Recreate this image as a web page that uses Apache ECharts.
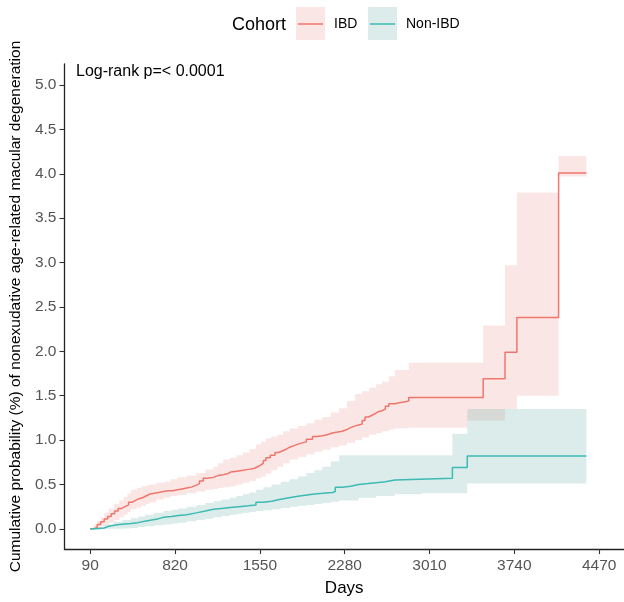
<!DOCTYPE html>
<html>
<head>
<meta charset="utf-8">
<script src="https://cdn.jsdelivr.net/npm/echarts@6/dist/echarts.min.js"></script>
<style>
html,body{margin:0;padding:0;background:#fff;}
#chart{width:624px;height:602px;}
</style>
</head>
<body>
<div id="chart"></div>
<script>
// ---- data ----
var xTicks = [90, 820, 1550, 2280, 3010, 3740, 4470];
var yTicks = [0, 0.5, 1, 1.5, 2, 2.5, 3, 3.5, 4, 4.5, 5];

var ibdDays = [90,120,150,180,210,240,270,300,330,360,390,420,450,480,510,540,570,600,640,680,720,760,800,840,880,920,960,1000,1030,1063,1100,1150,1190,1234,1270,1300,1350,1405,1450,1500,1530,1560,1580,1602,1640,1680,1710,1747,1780,1807,1850,1892,1950,2003,2040,2088,2130,2174,2220,2259,2300,2330,2370,2400,2430,2455,2485,2515,2545,2570,2600,2630,2660,2712,2750,2790,2831,3472,3660,3762,4121,4360];
var ibdValues = [0,0.02,0.05,0.08,0.11,0.14,0.17,0.20,0.23,0.25,0.27,0.30,0.32,0.34,0.35,0.37,0.39,0.40,0.41,0.42,0.43,0.43,0.44,0.45,0.46,0.47,0.49,0.51,0.54,0.57,0.58,0.60,0.61,0.62,0.64,0.65,0.66,0.67,0.68,0.70,0.72,0.74,0.77,0.80,0.83,0.86,0.88,0.90,0.92,0.94,0.96,0.98,1.01,1.04,1.05,1.06,1.08,1.09,1.10,1.12,1.14,1.16,1.17,1.18,1.22,1.26,1.28,1.30,1.32,1.33,1.35,1.38,1.41,1.42,1.43,1.44,1.48,1.69,1.99,2.38,4.01,4.01];

var ibdBandDays = [90,120,150,180,210,250,295,340,380,410,440,490,530,570,600,660,722,780,840,920,1004,1080,1150,1190,1234,1294,1350,1405,1460,1516,1560,1602,1650,1700,1750,1807,1880,1950,2020,2088,2160,2230,2300,2370,2430,2490,2550,2600,2660,2712,2831,3335,3472,3660,3762,4121,4360];
var ibdLower = [0,0,0.01,0.03,0.05,0.07,0.10,0.13,0.16,0.19,0.22,0.24,0.26,0.28,0.30,0.33,0.35,0.37,0.38,0.40,0.42,0.44,0.45,0.46,0.47,0.48,0.50,0.52,0.54,0.57,0.59,0.62,0.66,0.70,0.74,0.78,0.81,0.84,0.87,0.89,0.92,0.94,0.97,1.00,1.03,1.06,1.08,1.10,1.12,1.13,1.14,1.22,1.22,1.35,1.50,3.97,3.97];
var ibdUpper = [0,0.05,0.09,0.13,0.18,0.23,0.28,0.32,0.36,0.40,0.44,0.46,0.48,0.49,0.50,0.52,0.53,0.56,0.58,0.60,0.63,0.67,0.70,0.74,0.78,0.80,0.83,0.86,0.90,0.95,0.98,1.02,1.04,1.06,1.10,1.13,1.16,1.19,1.23,1.26,1.31,1.36,1.44,1.52,1.55,1.59,1.63,1.66,1.72,1.79,1.87,1.87,2.29,2.97,3.79,4.20,4.20];

var nonDays = [90,130,170,210,250,295,340,390,440,500,560,620,680,722,790,850,920,1004,1080,1150,1220,1294,1370,1450,1516,1580,1650,1720,1800,1892,2003,2090,2174,2199,2259,2330,2400,2480,2550,2630,2712,3207,3335,4360];
var nonValues = [0,0.005,0.01,0.03,0.04,0.05,0.055,0.06,0.07,0.085,0.10,0.115,0.13,0.14,0.15,0.16,0.18,0.20,0.22,0.23,0.24,0.25,0.26,0.27,0.30,0.31,0.33,0.35,0.37,0.39,0.40,0.41,0.42,0.47,0.48,0.50,0.51,0.52,0.53,0.55,0.57,0.69,0.82,0.82];

var nonBandDays = [90,150,210,295,370,440,500,560,640,722,790,850,920,1004,1080,1150,1220,1294,1350,1405,1460,1516,1580,1650,1730,1807,1880,1950,2020,2088,2160,2233,2400,2550,2712,2942,3207,3335,4360];
var nonLower = [0,0,0,0,0.005,0.01,0.02,0.03,0.04,0.05,0.06,0.07,0.085,0.10,0.115,0.13,0.145,0.16,0.17,0.18,0.19,0.20,0.21,0.22,0.235,0.25,0.26,0.27,0.28,0.29,0.305,0.32,0.35,0.37,0.39,0.40,0.40,0.51,0.51];
var nonUpper = [0,0.02,0.05,0.08,0.10,0.12,0.14,0.16,0.18,0.20,0.215,0.23,0.25,0.27,0.29,0.31,0.33,0.35,0.37,0.39,0.41,0.44,0.47,0.50,0.53,0.56,0.59,0.63,0.66,0.70,0.76,0.83,0.83,0.83,0.83,0.83,1.07,1.35,1.35];

var cohorts = ['IBD', 'Non-IBD'];
var lineColors = ['#F0766D', '#3DBAB1'];
var bandColors = ['rgba(225,120,110,0.18)', 'rgba(90,170,165,0.22)'];

// ---- build ----
function pairs(xs, ys) { return xs.map(function (x, i) { return [x, ys[i]]; }); }

var FONT = 'Arial, "Liberation Sans", Helvetica, sans-serif';

// step-shaped confidence band polygon, positioned through the axes (api.coord)
function bandSeries(name, xs, lo, hi, color) {
  return {
    type: 'custom', name: name + ' CI', silent: true, z: 1, clip: true,
    data: pairs(xs, hi),
    encode: { x: 0, y: 1 },
    renderItem: function (params, api) {
      if (params.dataIndex !== 0) return null;
      var pts = [];
      var n = xs.length;
      for (var i = 0; i < n; i++) {
        pts.push(api.coord([xs[i], hi[i]]));
        if (i < n - 1) pts.push(api.coord([xs[i + 1], hi[i]]));
      }
      for (var j = n - 1; j >= 0; j--) {
        if (j < n - 1) pts.push(api.coord([xs[j + 1], lo[j]]));
        pts.push(api.coord([xs[j], lo[j]]));
      }
      return { type: 'polygon', shape: { points: pts }, style: { fill: color } };
    }
  };
}

var series = [
  bandSeries('IBD', ibdBandDays, ibdLower, ibdUpper, bandColors[0]),
  bandSeries('Non-IBD', nonBandDays, nonLower, nonUpper, bandColors[1]),
  { type: 'line', name: cohorts[0], step: 'end', symbol: 'none', data: pairs(ibdDays, ibdValues),
    lineStyle: { color: lineColors[0], width: 1.5 }, z: 3 },
  { type: 'line', name: cohorts[1], step: 'end', symbol: 'none', data: pairs(nonDays, nonValues),
    lineStyle: { color: lineColors[1], width: 1.5 }, z: 3 }
];

var chart = echarts.init(document.getElementById('chart'), null, { renderer: 'canvas' });
chart.setOption({
  animation: false,
  backgroundColor: '#ffffff',
  grid: { left: 60, right: 0, top: 64, bottom: 49, containLabel: false },
  xAxis: {
    type: 'value', min: -132, max: 4684,
    name: 'Days', nameLocation: 'middle', nameGap: 31,
    nameTextStyle: { fontFamily: FONT, fontSize: 17, color: '#000' },
    axisLine: { show: true, onZero: false, lineStyle: { color: '#222', width: 1.3 } },
    axisTick: { show: true, customValues: xTicks, length: 5, lineStyle: { color: '#333', width: 1.1 } },
    axisLabel: { customValues: xTicks, margin: 9, fontFamily: FONT, fontSize: 15.5, color: '#555',
      formatter: function (v) { return String(v); } },
    splitLine: { show: false }
  },
  yAxis: {
    type: 'value', min: -0.227, max: 5.237,
    name: 'Cumulative probability (%) of nonexudative age-related macular degeneration',
    nameLocation: 'middle', nameGap: 38, nameRotate: 90,
    nameTextStyle: { fontFamily: FONT, fontSize: 15.5, color: '#000' },
    axisLine: { show: true, onZero: false, lineStyle: { color: '#222', width: 1.3 } },
    axisTick: { show: true, customValues: yTicks, length: 5, lineStyle: { color: '#333', width: 1.1 } },
    axisLabel: { customValues: yTicks, margin: 8, fontFamily: FONT, fontSize: 15.5, color: '#555',
      formatter: function (v) { return v.toFixed(1); } },
    splitLine: { show: false }
  },
  series: series,
  graphic: [
    { type: 'text', left: 76, top: 64, style: { text: 'Log-rank p=< 0.0001', fontFamily: FONT, fontSize: 16, fill: '#000' } },
    { type: 'text', left: 232, top: 16, style: { text: 'Cohort', fontFamily: FONT, fontSize: 18, fill: '#000' } },
    { type: 'rect', shape: { x: 296, y: 7, width: 29, height: 33 }, style: { fill: bandColors[0] } },
    { type: 'line', shape: { x1: 298, y1: 24, x2: 323, y2: 24 }, style: { stroke: lineColors[0], lineWidth: 1.5 } },
    { type: 'text', left: 334, top: 17, style: { text: cohorts[0], fontFamily: FONT, fontSize: 14, fill: '#000' } },
    { type: 'rect', shape: { x: 368, y: 7, width: 29, height: 33 }, style: { fill: bandColors[1] } },
    { type: 'line', shape: { x1: 370, y1: 24, x2: 395, y2: 24 }, style: { stroke: lineColors[1], lineWidth: 1.5 } },
    { type: 'text', left: 406, top: 17, style: { text: cohorts[1], fontFamily: FONT, fontSize: 14, fill: '#000' } }
  ]
});
</script>
</body>
</html>
